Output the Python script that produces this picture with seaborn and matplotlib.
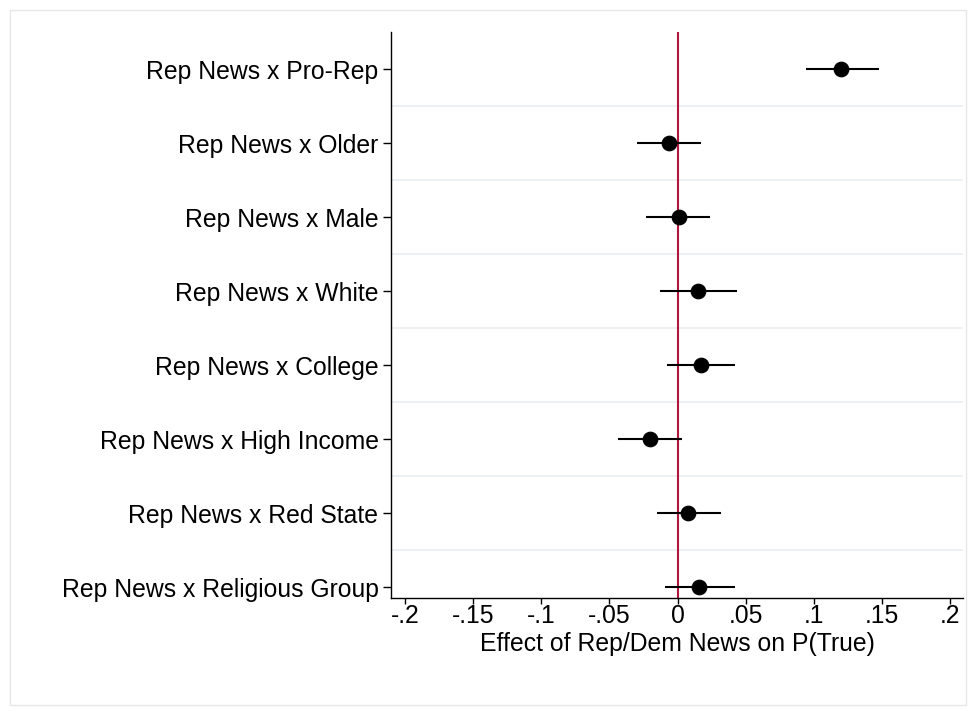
import matplotlib
matplotlib.use("Agg")
import matplotlib.pyplot as plt
import seaborn as sns
import pandas as pd
from matplotlib.patches import Rectangle

labels = ["Rep News x Pro-Rep", "Rep News x Older", "Rep News x Male", "Rep News x White",
          "Rep News x College", "Rep News x High Income", "Rep News x Red State",
          "Rep News x Religious Group"]
est = [0.120, -0.006, 0.001, 0.015, 0.017, -0.020, 0.008, 0.016]
lo = [0.094, -0.030, -0.023, -0.013, -0.008, -0.044, -0.015, -0.009]
hi = [0.148, 0.017, 0.024, 0.044, 0.042, 0.003, 0.032, 0.042]
xticks = [-0.2, -0.15, -0.1, -0.05, 0, 0.05, 0.1, 0.15, 0.2]
xticklabels = ["-.2", "-.15", "-.1", "-.05", "0", ".05", ".1", ".15", ".2"]

df = pd.DataFrame({"label": labels, "est": est, "lo": lo, "hi": hi})
df["pos"] = range(len(df))

sns.set_style("white")
plt.rcParams["font.family"] = ["Liberation Sans", "DejaVu Sans"]
plt.rcParams["text.color"] = "black"
plt.rcParams["xtick.color"] = "black"
plt.rcParams["ytick.color"] = "black"
plt.rcParams["axes.labelcolor"] = "black"

fs = 17.8
fig = plt.figure(figsize=(9.76, 7.15), dpi=100)
ax = fig.add_axes([391 / 976, 1 - 598 / 715, (963 - 391) / 976, (598 - 32) / 715])
fig.patches.append(Rectangle((10 / 976, 10 / 715), 956 / 976, 695 / 715, transform=fig.transFigure,
                             fill=False, edgecolor="#e6e6e6", linewidth=1))

for p in range(len(df) - 1):
    ax.axhline(p + 0.5, color="#eaeff2", linewidth=1.2, zorder=0)
ax.axvline(0, color="#b2163d", linewidth=1.5, zorder=1)
ax.hlines(df["pos"], df["lo"], df["hi"], color="black", linewidth=1.5, zorder=2)
sns.scatterplot(data=df, x="est", y="pos", color="black", s=110, zorder=3, ax=ax, edgecolor="black")

ax.set_ylim(len(df) - 1 + 11 / 74, -37 / 74)
ax.set_xlim(-0.2103, 0.2095)
ax.set_yticks(df["pos"])
ax.set_yticklabels(labels, fontsize=fs)
ax.set_xticks(xticks)
ax.set_xticklabels(xticklabels, fontsize=fs)
ax.set_xlabel("Effect of Rep/Dem News on P(True)", fontsize=fs, labelpad=3)
ax.set_ylabel("")
ax.tick_params(axis="both", direction="out", length=6, width=1, color="black", left=True, bottom=True)
ax.tick_params(axis="y", pad=3)
ax.tick_params(axis="x", length=4, pad=0)
for s in ["top", "right"]:
    ax.spines[s].set_visible(False)
for s in ["left", "bottom"]:
    ax.spines[s].set_color("black")
    ax.spines[s].set_linewidth(1)

plt.savefig("out.png", dpi=100)
